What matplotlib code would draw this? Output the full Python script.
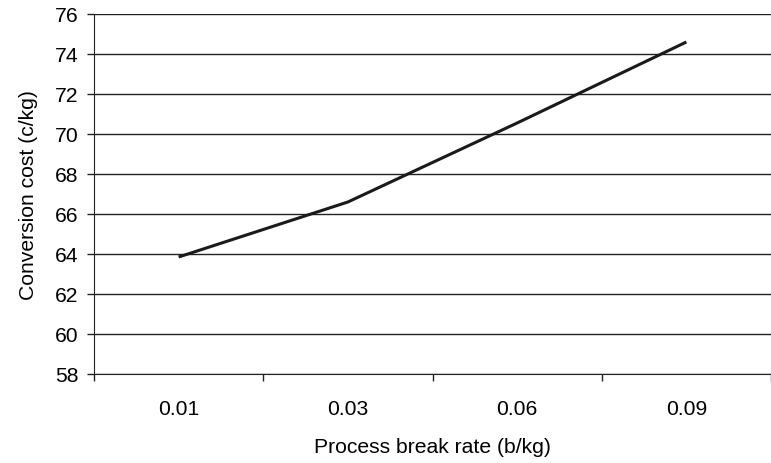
import matplotlib

matplotlib.use("Agg")
import matplotlib.pyplot as plt

plt.rcParams["font.family"] = ["Liberation Sans", "DejaVu Sans"]

categories = ["0.01", "0.03", "0.06", "0.09"]
cost = [63.85, 66.6, 70.55, 74.6]
y_ticks = list(range(58, 77, 2))

FS = 15.2

fig = plt.figure(figsize=(7.71, 4.64), dpi=100)
ax = fig.add_axes([94 / 771, 89 / 464, (771 - 94) / 771, 360 / 464])

x = list(range(len(categories)))
ax.plot(x, cost, color="#1a1a1a", lw=2.2, solid_capstyle="butt", zorder=3)

ax.set_xlim(-0.5, len(categories) - 0.5)
ax.set_ylim(58, 76)
ax.set_yticks(y_ticks)
ax.set_yticklabels([str(v) for v in y_ticks], fontsize=FS)
for v in y_ticks:
    ax.axhline(v, color="#222222", lw=1.0, zorder=1)

# category labels centred, ticks on the boundaries
ax.set_xticks([i - 0.5 for i in range(len(categories) + 1)])
ax.set_xticklabels([])
ax.set_xticks(x, minor=True)
ax.set_xticklabels(categories, minor=True, fontsize=FS)
ax.tick_params(axis="x", which="minor", length=0, pad=18)
ax.tick_params(axis="x", which="major", length=5, width=1, color="#222222")
ax.tick_params(axis="y", length=5, width=1, color="#222222", pad=6)

for s in ["top", "right"]:
    ax.spines[s].set_visible(False)
ax.spines["left"].set_color("#222222")
ax.spines["bottom"].set_color("#222222")

ax.set_xlabel("Process break rate (b/kg)", fontsize=FS, labelpad=14)
ax.set_ylabel("Conversion cost (c/kg)", fontsize=FS, labelpad=12)

fig.savefig("out.png", dpi=100)
